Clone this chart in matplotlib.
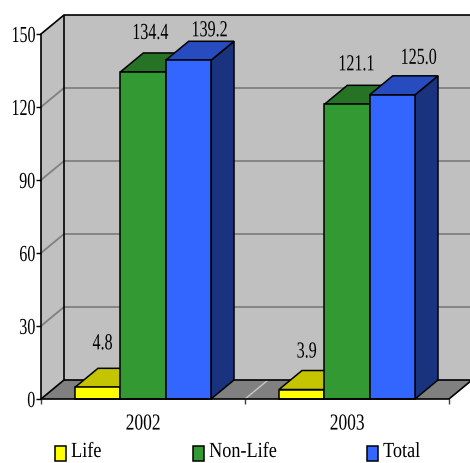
import matplotlib
matplotlib.use('Agg')
import matplotlib.pyplot as plt
from matplotlib.patches import Polygon, Rectangle
from matplotlib.patheffects import AbstractPathEffect
from matplotlib.transforms import Affine2D

years = ['2002', '2003']
series_names = ['Life', 'Non-Life', 'Total']
life = [4.8, 3.9]
non_life = [134.4, 121.1]
total = [139.2, 125.0]
y_ticks = [0, 30, 60, 90, 120, 150]

front_colors = ['#FFFF00', '#339933', '#3366FF']
top_colors = ['#C4C400', '#267326', '#264CBF']
side_colors = ['#7F7F00', '#1A4D1A', '#1A337F']

# label offsets from the bar's front top centre, in pixels
label_offsets = [[(5, 43.5), (5, 37.5)], [(7, 38.5), (9, 39.5)], [(21, 29.5), (26, 36.5)]]


class Squeeze(AbstractPathEffect):
    """Narrows a text path horizontally, keeping one side or the centre fixed."""
    def __init__(self, factor=0.70, anchor='center'):
        super().__init__()
        self.factor = factor
        self.anchor = anchor

    def draw_path(self, renderer, gc, tpath, affine, rgbFace=None):
        box = tpath.get_extents()
        x0 = {'center': (box.x0 + box.x1) / 2, 'right': box.x1, 'left': box.x0}[self.anchor]
        squeeze = Affine2D().translate(-x0, 0).scale(self.factor, 1).translate(x0, 0)
        renderer.draw_path(gc, tpath, squeeze + affine, rgbFace)


W, H = 470, 463
plt.rcParams['font.family'] = ['Liberation Serif', 'DejaVu Sans']
plt.rcParams['font.size'] = 16.5

fig = plt.figure(figsize=(W / 100, H / 100), dpi=100)
ax = fig.add_axes([41 / W, 1 - 399 / H, 408 / W, 365 / H])
ax.set_xlim(0, 2)
ax.set_ylim(0, 150)
ax.patch.set_visible(False)

# depth of the 3D box in data units
dx = 23 / 204
dy = 19 * 150 / 365
bar_w = 2 / 9
gap = 1 / 6


def face(points, color, z, edge='none', lw=0):
    ax.add_patch(Polygon(points, closed=True, facecolor=color, edgecolor=edge,
                         linewidth=lw, clip_on=False, zorder=z))


def line(xs, ys, color='black', lw=1.2, z=1.5):
    ax.plot(xs, ys, color=color, lw=lw, clip_on=False, zorder=z, solid_capstyle='butt')


# walls and floor
face([(0, 0), (dx, dy), (dx, 150 + dy), (0, 150)], '#C0C0C0', 1)
face([(dx, dy), (2 + dx, dy), (2 + dx, 150 + dy), (dx, 150 + dy)], '#C0C0C0', 1)
face([(0, 0), (2, 0), (2 + dx, dy), (dx, dy)], '#808080', 1)

for t in y_ticks[1:-1]:
    line([0, dx, 2 + dx], [t, t + dy, t + dy], color='#808080', lw=1.3)
line([1, 1 + dx], [0, dy], color='#C8C8C8', lw=1.0)

line([0, dx, dx], [0, dy, 150 + dy])
line([0, dx, 2 + dx], [150, 150 + dy, 150 + dy])
line([dx, 2 + dx], [dy, dy])
line([2, 2 + dx], [0, dy])

# bars, left to right so that each one covers the depth of the previous
for i_year in range(len(years)):
    for i_s, values in enumerate([life, non_life, total]):
        v = values[i_year]
        x0 = i_year + gap + i_s * bar_w
        x1 = x0 + bar_w
        z = 3 + i_year + i_s * 0.1
        face([(x1, 0), (x1 + dx, dy), (x1 + dx, v + dy), (x1, v)], side_colors[i_s], z, 'black', 1.1)
        face([(x0, v), (x1, v), (x1 + dx, v + dy), (x0 + dx, v + dy)], top_colors[i_s], z, 'black', 1.1)
        ax.add_patch(Rectangle((x0, 0), bar_w, v, facecolor=front_colors[i_s], edgecolor='black',
                               linewidth=1.1, clip_on=False, zorder=z))
        off = label_offsets[i_s][i_year]
        ax.annotate(f'{v:.1f}', xy=(x0 + bar_w / 2, v), xytext=(off[0] * 0.72, off[1] * 0.72),
                    textcoords='offset points', ha='center', va='center', color='black',
                    zorder=10, annotation_clip=False, path_effects=[Squeeze()])

# axes
for name in ['top', 'right']:
    ax.spines[name].set_visible(False)
for name in ['left', 'bottom']:
    ax.spines[name].set_linewidth(1.2)
    ax.spines[name].set_zorder(8)
ax.set_yticks(y_ticks)
ax.set_xticks([0, 1, 2])
ax.set_xticklabels([])
ax.set_xticks([0.5, 1.5], minor=True)
ax.set_xticklabels(years, minor=True)
ax.tick_params(axis='x', which='major', length=3.5, width=1, color='#404040')
ax.tick_params(axis='x', which='minor', length=0, pad=10.5)
ax.tick_params(axis='y', length=3.5, width=1, pad=0.5)
for lab in ax.get_yticklabels():
    lab.set_path_effects([Squeeze(anchor='right')])
for lab in ax.get_xticklabels(minor=True):
    lab.set_path_effects([Squeeze(0.76)])

# legend
legend_x = [54.5, 192.5, 366.5]
for name, color, lx in zip(series_names, front_colors, legend_x):
    fig.add_artist(Rectangle((lx / W, 1 - 460.5 / H), 11 / W, 15 / H, facecolor=color,
                             edgecolor='black', linewidth=1.1, transform=fig.transFigure))
    fig.text((lx + 16.5) / W, 1 - 452.5 / H, name, ha='left', va='center', fontsize=15.5,
             path_effects=[Squeeze(0.846, anchor='left')])

fig.savefig('out.png', dpi=100)
